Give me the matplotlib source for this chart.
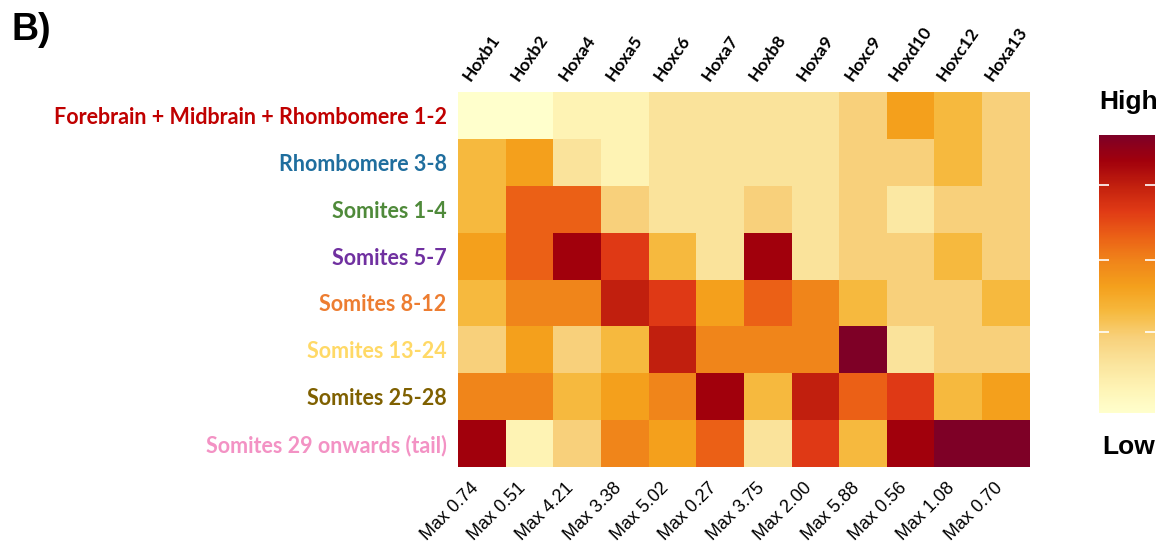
import matplotlib.pyplot as plt
from matplotlib.colors import LinearSegmentedColormap
import numpy as np

genes = ["Hoxb1", "Hoxb2", "Hoxa4", "Hoxa5", "Hoxc6", "Hoxa7",
         "Hoxb8", "Hoxa9", "Hoxc9", "Hoxd10", "Hoxc12", "Hoxa13"]
max_vals = ["0.74", "0.51", "4.21", "3.38", "5.02", "0.27",
            "3.75", "2.00", "5.88", "0.56", "1.08", "0.70"]
regions = ["Forebrain + Midbrain + Rhombomere 1-2", "Rhombomere 3-8",
           "Somites 1-4", "Somites 5-7", "Somites 8-12", "Somites 13-24",
           "Somites 25-28", "Somites 29 onwards (tail)"]
region_colors = ["#C00000", "#1F6E9E", "#4F8A3A", "#7030A0",
                 "#ED7D31", "#FFD966", "#7F6000", "#F392C4"]

# relative expression level per region (rows) and gene (columns), 0..11
levels = [
    [0, 0, 1, 1, 2, 2, 2, 2, 3, 5, 4, 3],
    [4, 5, 2, 1, 2, 2, 2, 2, 3, 3, 4, 3],
    [4, 7, 7, 3, 2, 2, 3, 2, 3, 1.7, 3, 3],
    [5, 7, 10, 8, 4, 2, 10, 2, 3, 3, 4, 3],
    [4, 6, 6, 9, 8, 5, 7, 6, 4, 3, 3, 4],
    [3, 5, 3, 4, 9, 6, 6, 6, 11, 2, 3, 3],
    [6, 6, 4, 5, 6, 10, 4, 9, 7, 8, 4, 5],
    [10, 1, 3, 6, 5, 7, 2, 8, 4, 10, 11, 11],
]
expr = np.array(levels) / 11.0

cmap = LinearSegmentedColormap.from_list("hox", [
    (0.00, "#FFFFCC"), (1 / 11, "#FEF3B4"), (2 / 11, "#FAE39B"),
    (3 / 11, "#F8D07A"), (4 / 11, "#F6B93E"), (5 / 11, "#F4A01C"),
    (6 / 11, "#F0851A"), (7 / 11, "#EB6016"), (8 / 11, "#E03A15"),
    (9 / 11, "#C2200E"), (10 / 11, "#A1000C"), (1.00, "#7E0026")])

fig = plt.figure(figsize=(11.68, 5.47), dpi=100)
ax = fig.add_axes([0.392, 0.146, 0.4897, 0.686])

mesh = ax.pcolormesh(expr, cmap=cmap, vmin=0, vmax=1)
ax.set_xlim(0, len(genes))
ax.set_ylim(len(regions), 0)
for s in ax.spines.values():
    s.set_visible(False)

ax.set_yticks(np.arange(len(regions)) + 0.5)
ax.set_yticklabels(regions, family="Lato", fontweight="bold", fontsize=15.5)
for lab, c in zip(ax.get_yticklabels(), region_colors):
    lab.set_color(c)
ax.tick_params(axis="y", length=0, pad=8)

ax.set_xticks(np.arange(len(genes)) + 0.5)
ax.set_xticklabels(["Max " + v for v in max_vals], rotation=45, ha="right",
                   va="top", family="Liberation Sans", fontsize=13)
ax.tick_params(axis="x", length=0, pad=9)

top = ax.secondary_xaxis("top")
top.set_xticks(np.arange(len(genes)) + 0.5)
top.set_xticklabels(genes, rotation=55, ha="center", va="bottom",
                    family="Lato", fontweight="bold", fontsize=12.5)
top.tick_params(length=0, pad=6)
top.spines["top"].set_visible(False)

# colour scale
cax = fig.add_axes([0.941, 0.245, 0.048, 0.508])
cb = fig.colorbar(mesh, cax=cax)
cb.outline.set_visible(False)
cb.set_ticks([0.29, 0.55, 0.82])
cb.ax.tick_params(which="both", direction="in", color="white", width=1.2,
                  length=7, left=True, right=True, labelright=False)
fig.text(0.966, 0.813, "High", ha="center", va="center", family="Liberation Sans",
         fontweight="bold", fontsize=19)
fig.text(0.966, 0.183, "Low", ha="center", va="center", family="Liberation Sans",
         fontweight="bold", fontsize=19)

fig.text(0.010, 0.945, "B)", ha="left", va="center", family="Liberation Sans",
         fontweight="bold", fontsize=27)

fig.savefig("out.png", dpi=100)
